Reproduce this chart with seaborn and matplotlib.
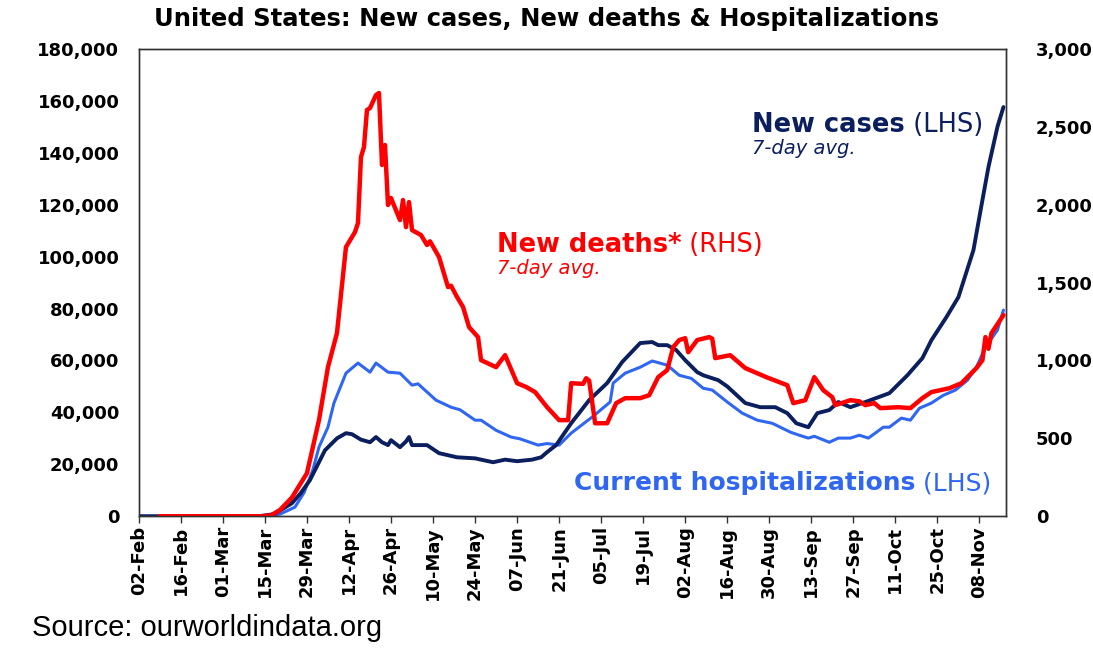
import pandas as pd
import numpy as np
import seaborn as sns
import matplotlib.pyplot as plt
import matplotlib.dates as mdates
from matplotlib.ticker import FuncFormatter


# values, x as days since 02-Feb-2020
start = pd.Timestamp('2020-02-02')

cases_day = [0, 40, 45, 51, 54, 57, 62, 66, 69, 71, 74, 77, 79, 81, 83, 84, 87, 89, 90, 91,
             96, 100, 106, 112, 118, 122, 126, 131, 134, 136, 139, 144, 150, 156, 161, 167,
             171, 173, 176, 179, 182, 186, 188, 193, 196, 202, 207, 212, 216, 219, 223, 226,
             230, 233, 237, 242, 250, 256, 261, 264, 269, 273, 278, 281, 283, 286, 288]
cases = [0, 0, 800, 5000, 9000, 13900, 25400, 30000, 32000, 31600, 29500, 28500, 30500, 28500,
         27400, 29300, 26600, 28800, 30500, 27400, 27400, 24300, 22700, 22300, 20800, 21800,
         21200, 21800, 22700, 24700, 27400, 35800, 44700, 51300, 59400, 66700, 67100, 65900,
         65900, 64000, 60100, 55500, 54300, 52400, 50000, 43600, 42000, 42000, 39700, 35800,
         34300, 39700, 40900, 44000, 42000, 44000, 47400, 54300, 60900, 67800, 76700, 84400,
         102500, 121800, 134500, 150000, 157600]

hosp_day = [0, 42, 47, 52, 55, 58, 60, 63, 65, 69, 73, 77, 79, 83, 87, 91, 93, 99, 104, 107,
            112, 114, 119, 124, 127, 133, 136, 140, 144, 151, 157, 158, 162, 167, 171, 176,
            180, 184, 188, 191, 196, 201, 206, 211, 217, 220, 223, 225, 230, 233, 237, 240,
            243, 248, 250, 254, 257, 260, 264, 268, 272, 276, 279, 282, 286, 288]
hosp = [0, 0, 800, 3500, 9000, 18000, 26600, 34300, 43600, 55100, 59000, 55500, 59000, 55500,
        55100, 50500, 51000, 44700, 42000, 41000, 37000, 37000, 33100, 30500, 29800, 27400,
        28000, 27400, 32000, 38200, 44000, 51300, 55100, 57400, 59800, 58200, 54300, 53100,
        49300, 48600, 44000, 39700, 37000, 35800, 32400, 31200, 30100, 30800, 28500, 30100,
        30100, 31200, 30100, 34300, 34300, 37800, 37000, 41600, 43600, 46600, 48600, 52400,
        57400, 65100, 71700, 79400]

deaths_day = [7, 41, 44, 47, 51, 56, 60, 63, 66, 69, 72, 73, 74, 75, 76, 77, 79, 80, 81, 82,
              83, 84, 87, 88, 89, 90, 91, 94, 96, 97, 100, 103, 104, 106, 108, 110, 113, 114,
              119, 122, 126, 129, 132, 136, 140, 143, 144, 148, 149, 150, 152, 156, 159, 162,
              167, 170, 173, 176, 178, 180, 182, 183, 186, 190, 191, 192, 197, 202, 209, 216,
              218, 222, 225, 228, 231, 232, 237, 240, 242, 245, 247, 253, 257, 261, 264, 270,
              274, 279, 281, 282, 283, 284, 288]
deaths = [0, 0, 5, 40, 120, 276, 616, 957, 1175, 1728, 1824, 1882, 2306, 2370, 2608, 2620, 2704,
          2717, 2255, 2383, 1998, 2043, 1901, 2030, 1856, 2017, 1837, 1805, 1741, 1765, 1664,
          1471, 1480, 1407, 1343, 1214, 1150, 1002, 957, 1034, 854, 830, 797, 700, 617, 617,
          854, 850, 886, 870, 597, 597, 726, 758, 758, 777, 893, 938, 1086, 1131, 1143, 1053,
          1131, 1150, 1140, 1015, 1034, 951, 893, 841, 726, 745, 893, 809, 764, 713, 745, 738,
          713, 726, 694, 700, 694, 758, 797, 822, 854, 951, 1002, 1150, 1075, 1175, 1291]

NAVY = '#0b1f5e'
BLUE = '#2f66f2'
RED = '#ff0000'

cases_df = pd.DataFrame({'date': start + pd.to_timedelta(cases_day, unit='D'), 'v': cases})
hosp_df = pd.DataFrame({'date': start + pd.to_timedelta(hosp_day, unit='D'), 'v': hosp})
deaths_df = pd.DataFrame({'date': start + pd.to_timedelta(deaths_day, unit='D'), 'v': deaths})

sns.set_style('white')
plt.rcParams['font.family'] = ['DejaVu Sans']
plt.rcParams['text.color'] = 'black'
plt.rcParams['xtick.color'] = 'black'
plt.rcParams['ytick.color'] = 'black'

fig = plt.figure(figsize=(10.93, 6.61), dpi=100)
ax = fig.add_axes([0.127, 0.219, 0.793, 0.707])
ax2 = ax.twinx()

sns.lineplot(data=hosp_df, x='date', y='v', ax=ax, color=BLUE, linewidth=2.2)
sns.lineplot(data=cases_df, x='date', y='v', ax=ax, color=NAVY, linewidth=2.8)
sns.lineplot(data=deaths_df, x='date', y='v', ax=ax2, color=RED, linewidth=3.2)

ax.set_xlim(start, start + pd.Timedelta(days=288.7))
ax.set_ylim(0, 180000)
ax2.set_ylim(0, 3000)
ax.set_yticks(np.arange(0, 180001, 20000))
ax2.set_yticks(np.arange(0, 3001, 500))
ax.yaxis.set_major_formatter(FuncFormatter(lambda v, p: f'{v:,.0f}'))
ax2.yaxis.set_major_formatter(FuncFormatter(lambda v, p: f'{v:,.0f}'))

xt = pd.date_range(start, periods=21, freq='14D')
ax.set_xticks(xt)
ax.xaxis.set_major_formatter(mdates.DateFormatter('%d-%b'))
for a in (ax, ax2):
    a.set_xlabel('')
    a.set_ylabel('')
    for s in a.spines.values():
        s.set_color('#333333')
        s.set_linewidth(1.0)
ax.tick_params(axis='x', bottom=True, direction='out', length=5, width=1, color='#333333',
               labelrotation=90, labelsize=13, pad=2)
ax.tick_params(axis='y', length=0, labelsize=13, pad=14)
ax2.tick_params(axis='y', length=0, labelsize=13, pad=22)
for lab in ax.get_xticklabels() + ax.get_yticklabels() + ax2.get_yticklabels():
    lab.set_fontweight('bold')

fig.text(0.5, 0.972, 'United States: New cases, New deaths & Hospitalizations',
         ha='center', va='center', fontsize=17.5, fontweight='bold')
fig.text(0.029, 0.05, 'Source: ourworldindata.org', fontsize=21,
         family=['Liberation Sans Narrow', 'Liberation Sans'], va='center')


def label(x, y, bold, rest, color, size=18.5):
    t = ax.text(x, y, bold, transform=ax.transAxes, color=color, fontsize=size,
                fontweight='bold', va='baseline', ha='left')
    fig.canvas.draw()
    bb = t.get_window_extent().transformed(ax.transAxes.inverted())
    ax.text(bb.x1, y, ' ' + rest, transform=ax.transAxes, color=color, fontsize=size,
            va='baseline', ha='left')


label(0.708, 0.822, 'New cases', '(LHS)', NAVY)
ax.text(0.708, 0.776, '7-day avg.', transform=ax.transAxes, color=NAVY, fontsize=14,
        style='italic', va='baseline')
label(0.413, 0.565, 'New deaths*', '(RHS)', RED)
ax.text(0.413, 0.518, '7-day avg.', transform=ax.transAxes, color=RED, fontsize=14,
        style='italic', va='baseline')
label(0.502, 0.056, 'Current hospitalizations', '(LHS)', BLUE, size=18)

fig.savefig('out.png', dpi=100)
